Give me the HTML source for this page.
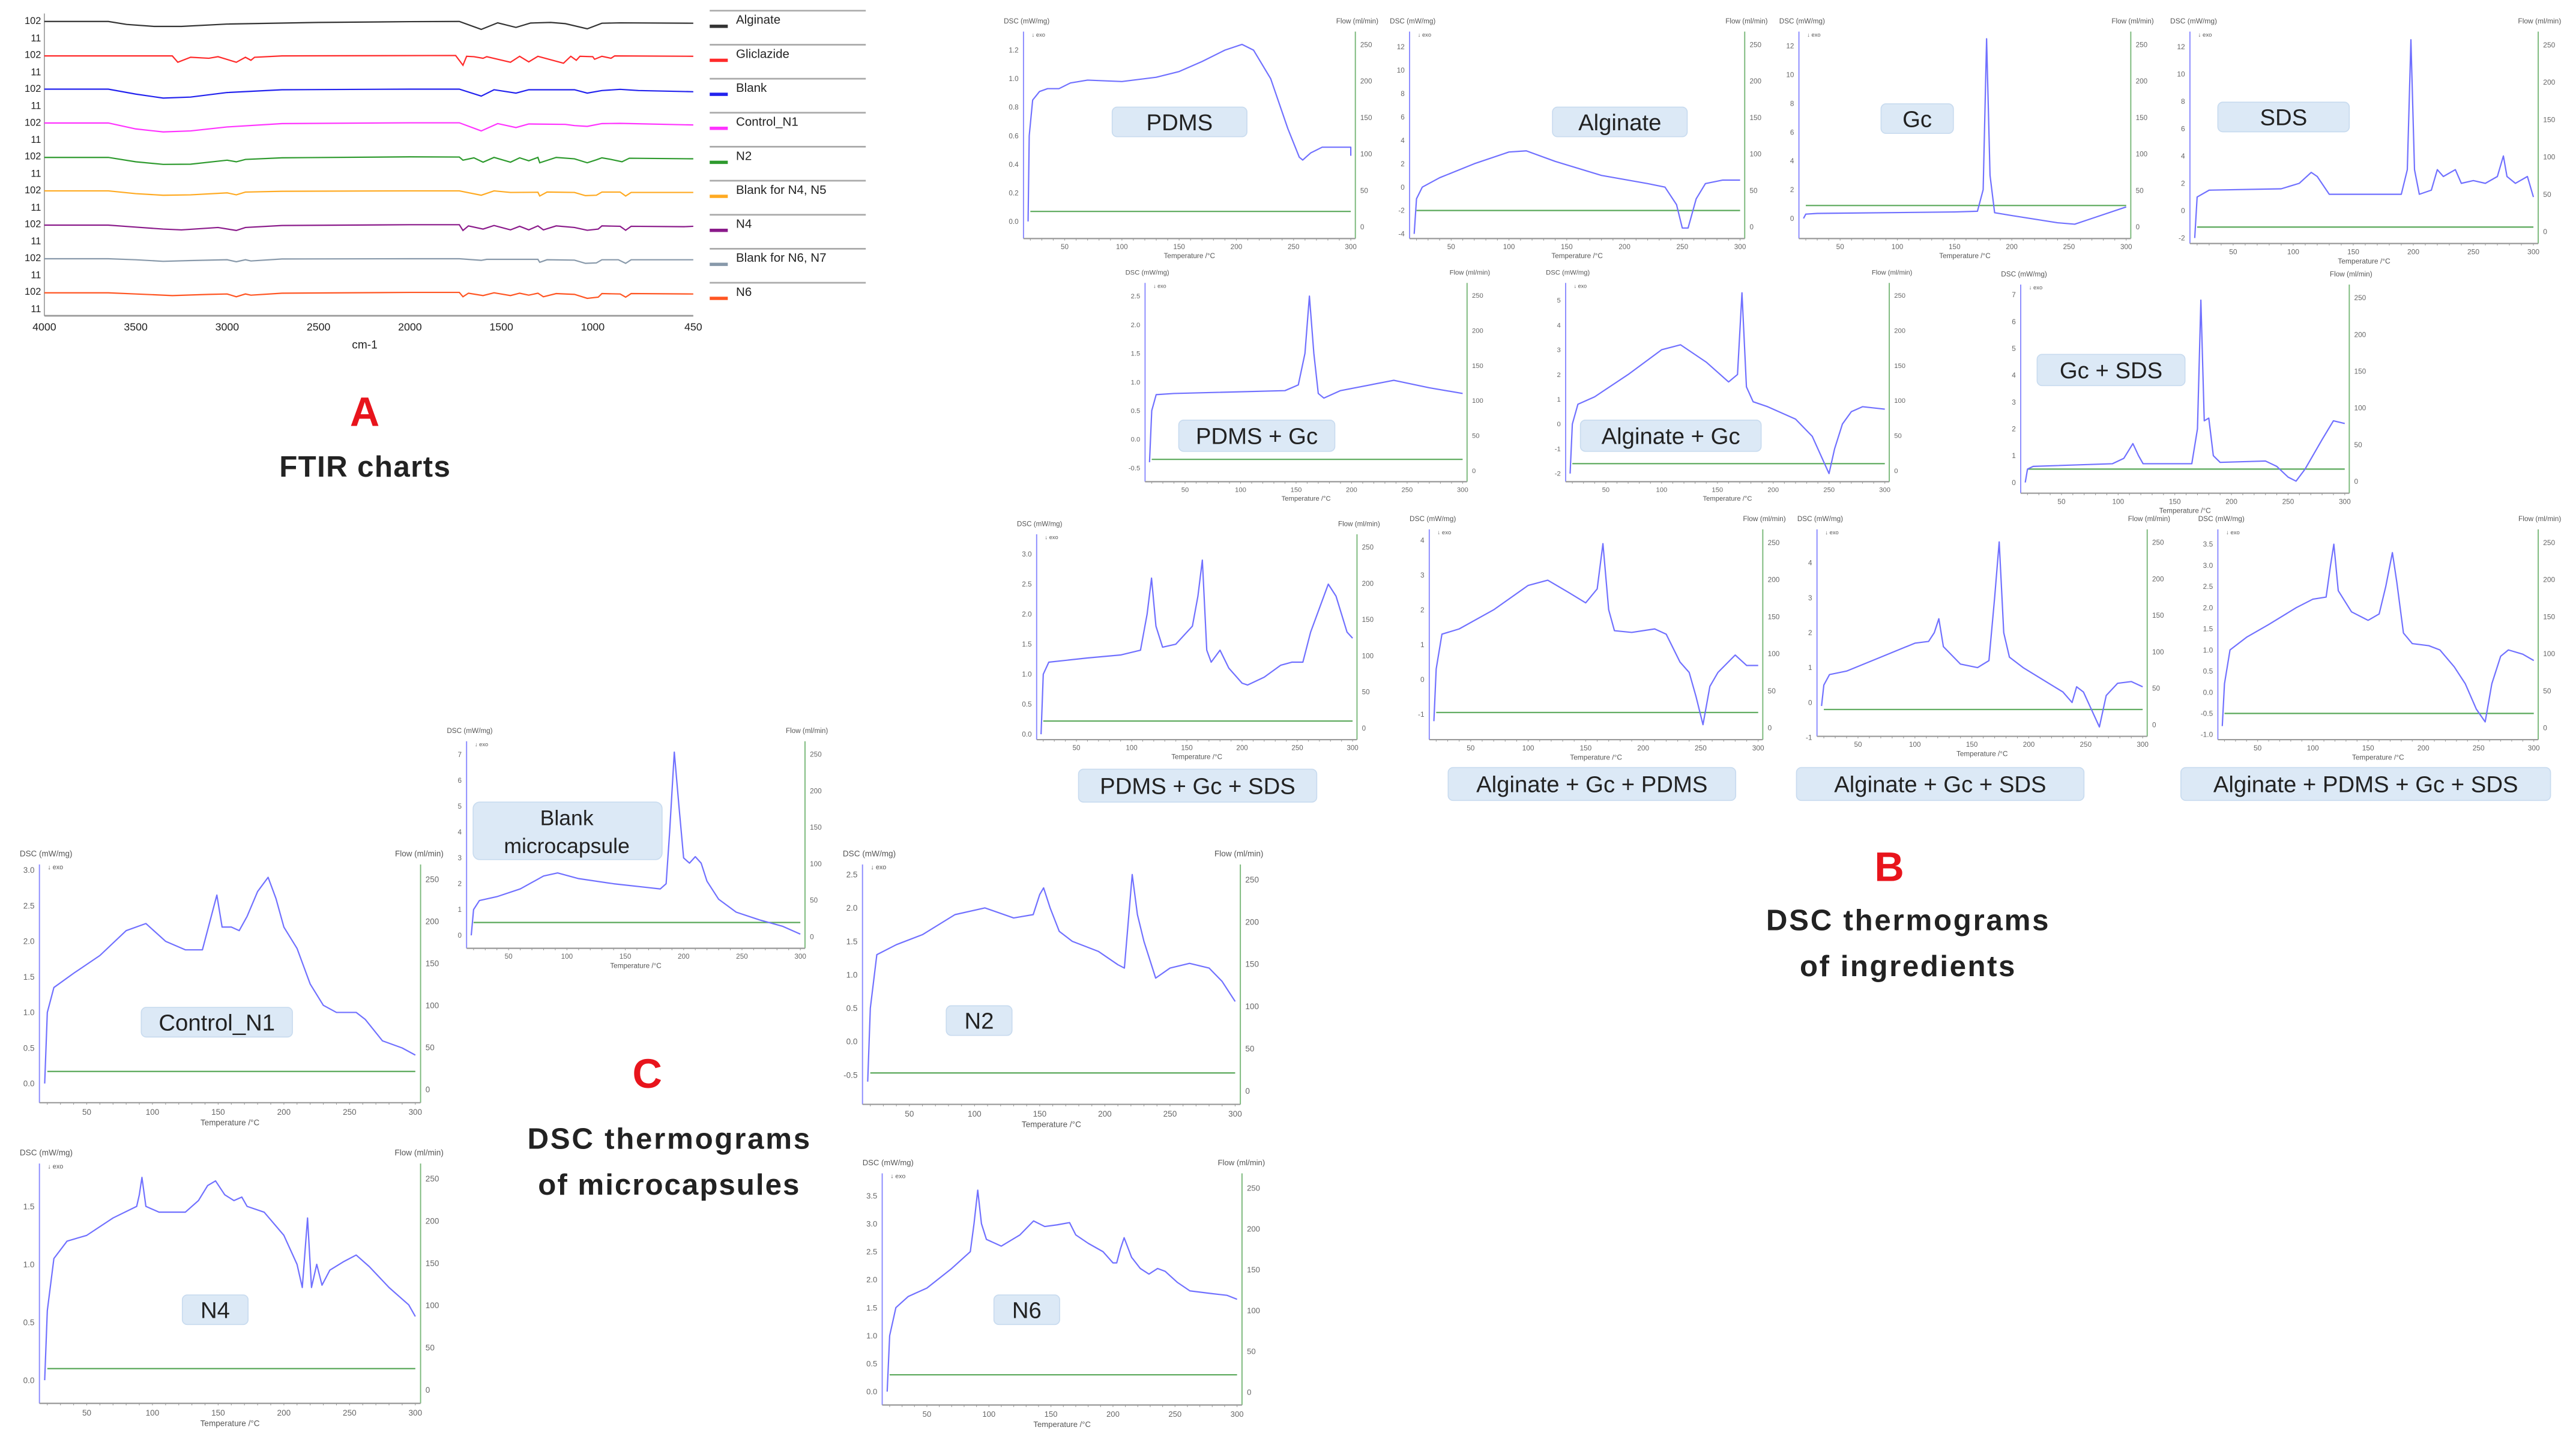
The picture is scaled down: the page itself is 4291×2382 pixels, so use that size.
<!DOCTYPE html>
<html><head><meta charset="utf-8">
<style>
html,body{margin:0;padding:0;background:#fff;}
svg{display:block;}
.lbl{font-family:"Liberation Sans",sans-serif;fill:#222;}
.big{font-family:"Liberation Sans",sans-serif;font-weight:bold;fill:#222;}
</style></head>
<body>
<svg id="fig" xmlns="http://www.w3.org/2000/svg" width="4291" height="2382" viewBox="0 0 1568 870">
<rect x="0" y="0" width="1568" height="870" fill="#fff"/>
<g id="ftir"></g>
<g id="dsc"></g>
<g id="labels">
<text class="big" x="222" y="259" font-size="25" fill="#e00" style="fill:#e8141c" text-anchor="middle">A</text>
<text class="big" x="222" y="290" font-size="18" text-anchor="middle" textLength="104">FTIR charts</text>
<text class="big" x="1150" y="536" font-size="25" style="fill:#e8141c" text-anchor="middle">B</text>
<text class="big" x="1161" y="566" font-size="18" text-anchor="middle" textLength="172">DSC thermograms</text>
<text class="big" x="1161" y="594" font-size="18" text-anchor="middle" textLength="131">of ingredients</text>
<text class="big" x="394" y="662" font-size="25" style="fill:#e8141c" text-anchor="middle">C</text>
<text class="big" x="407" y="699" font-size="18" text-anchor="middle" textLength="172">DSC thermograms</text>
<text class="big" x="407" y="727" font-size="18" text-anchor="middle" textLength="159">of microcapsules</text>
</g>
<g id="tags"></g>
</svg>
<script>
// ---------- FTIR data ----------
const ftirNames=["Alginate","Gliclazide","Blank","Control_N1","N2","Blank for N4, N5","N4","Blank for N6, N7","N6"];
const ftirColors=["#333333","#ff2a2a","#2222ee","#ff33ff","#2e9a2e","#ffaa22","#8a1a8a","#8899aa","#ff5522"];
const ftirAlginate=[[4000,95],[3650,95],[3550,80],[3400,70],[3250,70],[3000,82],[2500,90],[2000,94],[1730,95],[1610,55],[1520,88],[1420,65],[1340,87],[1230,90],[1150,84],[1030,58],[950,86],[850,88],[450,86]];
const ftirGliclazide=[[4000,92],[3300,92],[3270,60],[3200,85],[3100,80],[3050,88],[2950,60],[2900,85],[2870,70],[2850,85],[2700,92],[1750,94],[1710,45],[1690,90],[1650,88],[1600,80],[1580,88],[1450,60],[1400,90],[1350,62],[1300,90],[1160,55],[1120,90],[1090,70],[1070,90],[1000,88],[990,75],[950,90],[900,80],[880,92],[450,90]];
const ftirBlank=[[4000,95],[3650,95],[3500,70],[3350,50],[3200,55],[3000,78],[2700,92],[2000,95],[1730,95],[1610,60],[1540,92],[1420,75],[1350,92],[1100,92],[1030,75],[950,88],[850,94],[750,88],[450,82]];
const ftirControl=[[4000,95],[3650,95],[3500,65],[3350,50],[3200,55],[3000,75],[2700,92],[2000,96],[1730,96],[1610,55],[1520,92],[1420,72],[1350,90],[1150,88],[1100,82],[1030,78],[950,92],[850,93],[450,85]];
const ftirN2=[[4000,92],[3650,92],[3500,70],[3350,57],[3200,58],[3000,78],[2950,70],[2900,82],[2700,90],[2000,95],[1730,94],[1710,78],[1650,90],[1600,68],[1540,92],[1450,68],[1400,90],[1350,75],[1300,92],[1290,65],[1200,92],[1100,85],[1030,65],[980,80],[950,90],[900,82],[840,70],[800,88],[450,85]];
const ftirBlankN4=[[4000,94],[3650,94],[3500,80],[3350,72],[3200,74],[3000,84],[2950,74],[2900,88],[2700,92],[2000,94],[1730,94],[1610,72],[1540,94],[1450,86],[1300,87],[1290,68],[1250,88],[1100,86],[1040,70],[980,72],[950,88],[850,88],[820,68],[790,86],[450,86]];
const ftirN4=[[4000,92],[3650,92],[3500,82],[3350,72],[3250,68],[3050,80],[2950,65],[2900,80],[2700,90],[2000,94],[1730,94],[1710,65],[1680,88],[1600,72],[1540,90],[1450,68],[1400,86],[1350,68],[1300,88],[1270,68],[1200,88],[1100,80],[1030,66],[970,72],[950,88],[850,86],[820,66],[790,86],[500,84],[450,86]];
const ftirBlankN6=[[4000,93],[3650,93],[3500,88],[3350,80],[3200,84],[3000,88],[2950,78],[2900,88],[2870,82],[2700,92],[2000,93],[1730,93],[1610,85],[1580,90],[1300,90],[1290,75],[1250,88],[1100,86],[1040,70],[980,72],[950,88],[860,88],[820,70],[790,88],[450,88]];
const ftirN6=[[4000,92],[3650,92],[3500,86],[3300,78],[3100,84],[3000,86],[2950,72],[2900,86],[2870,80],[2700,90],[2000,94],[1730,94],[1710,72],[1680,90],[1600,78],[1540,92],[1450,78],[1400,90],[1350,80],[1300,90],[1270,72],[1200,88],[1100,84],[1030,64],[970,70],[950,88],[850,86],[820,70],[790,88],[450,86]];
const ftirSeries=[ftirAlginate,ftirGliclazide,ftirBlank,ftirControl,ftirN2,ftirBlankN4,ftirN4,ftirBlankN6,ftirN6];
const ftirTicks=[4000,3500,3000,2500,2000,1500,1000,450];

// ---------- DSC data: [temperature °C, DSC mW/mg] ----------
const curvePDMS=[[18,0.0],[19,0.6],[22,0.85],[28,0.91],[35,0.93],[45,0.93],[55,0.97],[70,0.99],[100,0.98],[130,1.01],[150,1.05],[170,1.12],[190,1.2],[205,1.24],[215,1.2],[230,1.0],[245,0.65],[255,0.45],[258,0.43],[265,0.48],[275,0.52],[300,0.52],[300,0.46]];
const curveAlginate=[[18,-4],[20,-1],[25,0],[40,0.8],[70,2],[100,3],[115,3.1],[140,2.2],[180,1],[220,0.3],[235,0],[245,-1.5],[250,-3.5],[255,-3.5],[262,-1],[270,0.3],[285,0.6],[300,0.6]];
const curveGc=[[18,0],[20,0.3],[30,0.35],[150,0.45],[170,0.5],[175,2],[178,12.5],[181,3],[185,0.4],[200,0.2],[240,-0.3],[255,-0.4],[270,0],[300,0.8]];
const curveSDS=[[18,-2],[20,1],[30,1.5],[90,1.6],[105,2],[115,2.8],[120,2.5],[130,1.2],[190,1.2],[195,3],[198,12.5],[201,3],[205,1.2],[215,1.5],[220,3],[225,2.5],[235,3],[240,2],[250,2.2],[260,2],[270,2.5],[275,4],[278,2.5],[285,2],[295,2.5],[300,1]];
const curvePDMSGc=[[18,-0.4],[20,0.5],[24,0.78],[40,0.8],[140,0.85],[152,0.95],[158,1.5],[162,2.5],[166,1.5],[170,0.8],[175,0.72],[190,0.85],[238,1.03],[270,0.9],[300,0.8]];
const curveAlgGc=[[18,-2],[20,0],[25,0.8],[40,1.1],[70,2],[100,3],[117,3.2],[140,2.5],[160,1.7],[168,2],[172,5.3],[176,1.5],[182,0.9],[195,0.7],[220,0.2],[235,-0.5],[242,-1.2],[250,-2],[255,-1],[262,0],[270,0.5],[280,0.7],[300,0.6]];
const curveGcSDS=[[18,0],[20,0.5],[25,0.6],[95,0.7],[105,0.9],[113,1.45],[118,1.0],[122,0.7],[165,0.7],[170,2],[173,6.8],[176,2.3],[180,2.4],[184,1.0],[190,0.75],[230,0.8],[240,0.6],[250,0.2],[257,0.05],[265,0.5],[280,1.6],[290,2.3],[300,2.2]];
const curvePDMSGcSDS=[[18,0],[20,1.0],[25,1.2],[60,1.27],[90,1.32],[108,1.4],[114,2],[118,2.6],[122,1.8],[128,1.45],[140,1.5],[155,1.8],[160,2.3],[164,2.9],[168,1.4],[172,1.2],[180,1.4],[188,1.1],[200,0.85],[205,0.82],[220,0.95],[235,1.15],[245,1.2],[255,1.2],[262,1.7],[270,2.1],[278,2.5],[285,2.3],[295,1.7],[300,1.6]];
const curveAlgGcPDMS=[[18,-1.2],[20,0.3],[25,1.3],[40,1.45],[70,2],[100,2.7],[117,2.85],[135,2.5],[150,2.2],[160,2.6],[165,3.9],[170,2.0],[175,1.4],[190,1.35],[210,1.45],[220,1.3],[232,0.5],[240,0.2],[246,-0.5],[252,-1.3],[258,-0.2],[265,0.2],[280,0.7],[290,0.4],[300,0.4]];
const curveAlgGcSDS=[[18,-0.1],[20,0.5],[25,0.8],[40,0.9],[70,1.3],[100,1.7],[112,1.75],[117,2.0],[121,2.4],[125,1.6],[140,1.1],[155,1.0],[165,1.2],[170,3],[174,4.6],[178,2],[183,1.3],[195,1.0],[215,0.6],[230,0.3],[238,0.0],[242,0.45],[248,0.3],[255,-0.2],[262,-0.7],[268,0.2],[278,0.55],[290,0.6],[300,0.45]];
const curveAll=[[18,-0.8],[20,0.2],[25,1.0],[40,1.3],[60,1.6],[85,2.0],[100,2.2],[112,2.25],[116,3],[119,3.5],[123,2.4],[135,1.9],[150,1.7],[160,1.85],[166,2.5],[172,3.3],[176,2.6],[182,1.4],[190,1.15],[205,1.1],[215,1.0],[228,0.6],[238,0.2],[248,-0.4],[256,-0.7],[262,0.2],[270,0.85],[277,1.0],[290,0.9],[300,0.75]];
const curveBlankMC=[[18,0],[20,1.0],[25,1.35],[40,1.5],[60,1.8],[80,2.3],[92,2.42],[110,2.2],[140,2.0],[170,1.85],[180,1.8],[185,2],[188,4],[192,7.1],[196,5],[200,3],[205,2.8],[210,3.05],[215,2.8],[220,2.1],[230,1.4],[245,0.9],[265,0.6],[285,0.35],[300,0.05]];
const curveControl=[[18,0],[20,1.0],[25,1.35],[40,1.55],[60,1.8],[80,2.15],[95,2.25],[110,2.0],[125,1.88],[138,1.88],[144,2.3],[149,2.65],[153,2.2],[160,2.2],[166,2.15],[172,2.35],[180,2.7],[188,2.9],[194,2.6],[200,2.2],[210,1.9],[220,1.4],[230,1.1],[240,1.0],[255,1.0],[262,0.9],[275,0.6],[290,0.5],[300,0.4]];
const curveN2=[[18,-0.6],[20,0.5],[25,1.3],[40,1.45],[60,1.6],[85,1.9],[108,2.0],[130,1.85],[145,1.9],[150,2.2],[153,2.3],[158,2.0],[165,1.65],[175,1.5],[195,1.35],[210,1.15],[215,1.1],[218,1.8],[221,2.5],[225,1.9],[230,1.5],[239,0.95],[250,1.1],[265,1.17],[280,1.1],[290,0.9],[300,0.6]];
const curveN4=[[18,0],[20,0.6],[25,1.05],[35,1.2],[50,1.25],[70,1.4],[88,1.5],[90,1.6],[92,1.75],[95,1.5],[105,1.45],[125,1.45],[135,1.55],[142,1.68],[148,1.72],[155,1.6],[162,1.55],[168,1.58],[172,1.5],[185,1.45],[200,1.25],[210,1.0],[214,0.8],[218,1.4],[221,0.8],[225,1.0],[229,0.82],[235,0.95],[245,1.02],[255,1.08],[265,0.98],[280,0.8],[295,0.65],[300,0.55]];
const curveN6=[[18,0],[20,1.0],[25,1.5],[35,1.7],[50,1.85],[70,2.2],[85,2.5],[88,3.0],[91,3.6],[94,3.0],[98,2.72],[110,2.6],[125,2.8],[136,3.05],[145,2.95],[155,2.98],[165,3.02],[170,2.8],[180,2.65],[192,2.5],[200,2.3],[203,2.3],[206,2.55],[209,2.75],[215,2.4],[222,2.2],[229,2.1],[236,2.2],[242,2.15],[252,1.95],[262,1.8],[280,1.75],[292,1.72],[300,1.65]];

const ticksPDMS=[0,0.2,0.4,0.6,0.8,1.0,1.2];
const ticksAlg=[-4,-2,0,2,4,6,8,10,12];
const ticksGc=[0,2,4,6,8,10,12];
const ticksSDS=[-2,0,2,4,6,8,10,12];
const ticksPG=[-0.5,0.0,0.5,1.0,1.5,2.0,2.5];
const ticksAG=[-2,-1,0,1,2,3,4,5];
const ticksGS=[0,1,2,3,4,5,6,7];
const ticksPGS=[0.0,0.5,1.0,1.5,2.0,2.5,3.0];
const ticksM1=[-1,0,1,2,3,4];
const ticksAll=[-1.0,-0.5,0.0,0.5,1.0,1.5,2.0,2.5,3.0,3.5];
const ticksBlank=[0,1,2,3,4,5,6,7];
const ticksN1=[0.0,0.5,1.0,1.5,2.0,2.5,3.0];
const ticksN2=[-0.5,0.0,0.5,1.0,1.5,2.0,2.5];
const ticksN4=[0.0,0.5,1.0,1.5];
const ticksN6=[0.0,0.5,1.0,1.5,2.0,2.5,3.0,3.5];
const xTicks=[50,100,150,200,250,300];
const flowTicks=[0,50,100,150,200,250];

const NS="http://www.w3.org/2000/svg";
function mk(tag,attrs,parent){const e=document.createElementNS(NS,tag);for(const k in attrs)e.setAttribute(k,attrs[k]);parent.appendChild(e);return e;}

// ---------- FTIR ----------
(function(){
  const g=document.getElementById('ftir');
  const x0=27,x1=422;
  const xs=w=>x0+(4000-w)/(4000-450)*(x1-x0);
  const ys=(i,v)=>12+20.6*i+(102-v)/91*11;
  const ax=mk('line',{x1:x0,y1:8,x2:x0,y2:192,stroke:'#999','stroke-width':0.6},g);
  
  
  const bx=mk('line',{x1:x0,y1:192,x2:x1,y2:192,stroke:'#999','stroke-width':1},g);
  
  
  ftirTicks.forEach(t=>{
    const tl=mk('text',{x:xs(t),y:201,'font-size':6.5,'text-anchor':'middle',class:'lbl'},g);tl.textContent=t;
    
    
  });
  const xt=mk('text',{x:222,y:212,'font-size':7,'text-anchor':'middle',class:'lbl'},g);xt.textContent='cm-1';
  
  
  ftirSeries.forEach((s,i)=>{
    const a=mk('text',{x:25,y:14.5+20.6*i,'font-size':6,'text-anchor':'end',class:'lbl'},g);a.textContent='102';
    
    
    const b=mk('text',{x:25,y:25+20.6*i,'font-size':6,'text-anchor':'end',class:'lbl'},g);b.textContent='11';
    
    
    const p=mk('polyline',{points:s.map(d=>xs(d[0]).toFixed(2)+','+ys(i,d[1]).toFixed(2)).join(' '),fill:'none',stroke:ftirColors[i],'stroke-width':0.8},g);
    
    
    const sy=6.3+20.7*i;
    const sep=mk('line',{x1:432,y1:sy,x2:527,y2:sy,stroke:'#aaa','stroke-width':1},g);
    
    
    const sw=mk('rect',{x:432,y:sy+8.5,width:11,height:2,fill:ftirColors[i]},g);
    
    
    const lt=mk('text',{x:448,y:sy+8,'font-size':7.5,class:'lbl'},g);lt.textContent=ftirNames[i];
    
    
  });
})();

// ---------- DSC panels ----------
const panels=[
 {id:'pdms',L:623,R:825,T:19,B:145,yT:1.33,yB:-0.12,ticks:ticksPDMS,green:0.07,data:curvePDMS},
 {id:'alginate',L:858,R:1062,T:19,B:145,yT:13.3,yB:-4.4,ticks:ticksAlg,green:-2,data:curveAlginate},
 {id:'gc',L:1095,R:1297,T:19,B:145,yT:13,yB:-1.4,ticks:ticksGc,green:0.9,data:curveGc},
 {id:'sds',L:1333,R:1545,T:19,B:148,yT:13.1,yB:-2.4,ticks:ticksSDS,green:-1.2,data:curveSDS},
 {id:'pdms-gc',L:697,R:893,T:172,B:293,yT:2.73,yB:-0.74,ticks:ticksPG,green:-0.35,data:curvePDMSGc},
 {id:'alginate-gc',L:953,R:1150,T:172,B:293,yT:5.7,yB:-2.33,ticks:ticksAG,green:-1.6,data:curveAlgGc},
 {id:'gc-sds',L:1230,R:1430,T:173,B:300,yT:7.38,yB:-0.4,ticks:ticksGS,green:0.5,data:curveGcSDS},
 {id:'pdms-gc-sds',L:631,R:826,T:325,B:450,yT:3.33,yB:-0.09,ticks:ticksPGS,green:0.22,data:curvePDMSGcSDS},
 {id:'alginate-gc-pdms',L:870,R:1073,T:322,B:450,yT:4.31,yB:-1.73,ticks:ticksM1,green:-0.95,data:curveAlgGcPDMS},
 {id:'alginate-gc-sds',L:1106,R:1307,T:322,B:448,yT:4.96,yB:-0.97,ticks:ticksM1,green:-0.2,data:curveAlgGcSDS},
 {id:'alginate-pdms-gc-sds',L:1350,R:1545,T:322,B:450,yT:3.85,yB:-1.12,ticks:ticksAll,green:-0.5,data:curveAll},
 {id:'blank-microcapsule',L:284,R:490,T:451,B:577,yT:7.52,yB:-0.5,ticks:ticksBlank,green:0.5,data:curveBlankMC},
 {id:'control-n1',L:24,R:256,T:526,B:671,yT:3.08,yB:-0.27,ticks:ticksN1,green:0.17,data:curveControl},
 {id:'n2',L:525,R:755,T:526,B:672,yT:2.65,yB:-0.94,ticks:ticksN2,green:-0.47,data:curveN2},
 {id:'n4',L:24,R:256,T:708,B:854,yT:1.87,yB:-0.2,ticks:ticksN4,green:0.1,data:curveN4},
 {id:'n6',L:537,R:756,T:714,B:855,yT:3.9,yB:-0.24,ticks:ticksN6,green:0.3,data:curveN6}
];
(function(){
  const root=document.getElementById('dsc');
  panels.forEach(p=>{
    const g=mk('g',{},root);
    
    
    const h=p.B-p.T;
    const xs=t=>p.L+(t-14)/(304-14)*(p.R-p.L);
    const ys=v=>p.T+(p.yT-v)/(p.yT-p.yB)*h;
    const fs=Math.max(3.6,h*0.034);
    const la=mk('line',{x1:p.L,y1:p.T,x2:p.L,y2:p.B,stroke:'#8a8aff','stroke-width':0.7},g);
    
    
    const ra=mk('line',{x1:p.R,y1:p.T,x2:p.R,y2:p.B,stroke:'#7ab87a','stroke-width':0.7},g);
    
    
    const ba=mk('line',{x1:p.L,y1:p.B,x2:p.R,y2:p.B,stroke:'#999','stroke-width':0.8},g);
    
    
    for(let t=20;t<=300;t+=10){const m=mk('line',{x1:xs(t),y1:p.B,x2:xs(t),y2:p.B+1.2,stroke:'#999','stroke-width':0.4},g);
      
      }
    const dec=p.ticks.some(v=>v%1!==0);
    p.ticks.forEach(v=>{
      const t=mk('text',{x:p.L-3,y:ys(v)+fs*0.35,'font-size':fs,'text-anchor':'end',fill:'#666','font-family':'Liberation Sans, sans-serif'},g);
      t.textContent=dec?v.toFixed(1):String(v);
      
      
    });
    flowTicks.forEach(f=>{
      const t=mk('text',{x:p.R+3,y:p.T+(0.944-0.881*f/250)*h+fs*0.35,'font-size':fs,fill:'#666','font-family':'Liberation Sans, sans-serif'},g);
      t.textContent=f;
      
      
    });
    xTicks.forEach(v=>{
      const t=mk('text',{x:xs(v),y:p.B+fs*1.5,'font-size':fs,'text-anchor':'middle',fill:'#666','font-family':'Liberation Sans, sans-serif'},g);
      t.textContent=v;
      
      
    });
    const xt=mk('text',{x:(p.L+p.R)/2,y:p.B+fs*2.8,'font-size':fs,'text-anchor':'middle',fill:'#555','font-family':'Liberation Sans, sans-serif'},g);
    xt.textContent='Temperature /°C';
    
    
    const yt=mk('text',{x:p.L-12,y:p.T-5,'font-size':fs,fill:'#555','font-family':'Liberation Sans, sans-serif'},g);
    yt.textContent='DSC (mW/mg)';
    
    
    const ft=mk('text',{x:p.R+14,y:p.T-5,'font-size':fs,'text-anchor':'end',fill:'#555','font-family':'Liberation Sans, sans-serif'},g);
    ft.textContent='Flow (ml/min)';
    
    
    const ex=mk('text',{x:p.L+5,y:p.T+3,'font-size':fs*0.8,fill:'#555','font-family':'Liberation Sans, sans-serif'},g);
    ex.textContent='↓ exo';
    
    
    const gl=mk('line',{x1:xs(20),y1:ys(p.green),x2:xs(300),y2:ys(p.green),stroke:'#5aa85a','stroke-width':0.8},g);
    
    
    const c=mk('polyline',{points:p.data.map(d=>xs(d[0]).toFixed(2)+','+ys(d[1]).toFixed(2)).join(' '),fill:'none',stroke:'#7070ff','stroke-width':0.8,'stroke-linejoin':'round'},g);
    
    
  });
})();

// ---------- sample tags ----------
const tagText=["PDMS","Alginate","Gc","SDS","PDMS + Gc","Alginate + Gc","Gc + SDS","PDMS + Gc + SDS","Alginate + Gc + PDMS","Alginate + Gc + SDS","Alginate + PDMS + Gc + SDS","Control_N1","N2","N4","N6"];
const tagBox=[[718,74,82,18],[986,74,82,18],[1167,72,44,18],[1390,71,80,18],[765,265,95,19],[1017,265,110,19],[1285,225,90,19],[729,478,145,20],[969,477,175,20],[1181,477,175,20],[1440,477,225,20],[132,622,92,18],[596,621,40,18],[131,797,40,18],[625,797,40,18]];
(function(){
  const g=document.getElementById('tags');
  tagText.forEach((s,i)=>{
    const b=tagBox[i];
    const r=mk('rect',{x:b[0]-b[2]/2,y:b[1]-b[3]/2,width:b[2],height:b[3],rx:3,fill:'#dce9f6',stroke:'#c8dbef','stroke-width':0.6},g);
    
    
    const t=mk('text',{x:b[0],y:b[1]+5,'font-size':14,'text-anchor':'middle',class:'lbl'},g);
    t.textContent=s;
    
    
  });
  const r=mk('rect',{x:288,y:488,width:115,height:35,rx:4,fill:'#dce9f6',stroke:'#c8dbef','stroke-width':0.6},g);
  
  
  const t1=mk('text',{x:345,y:502,'font-size':13,'text-anchor':'middle',class:'lbl'},g);t1.textContent='Blank';
  
  
  const t2=mk('text',{x:345,y:519,'font-size':13,'text-anchor':'middle',class:'lbl'},g);t2.textContent='microcapsule';
  
  
})();
</script>
</body></html>
